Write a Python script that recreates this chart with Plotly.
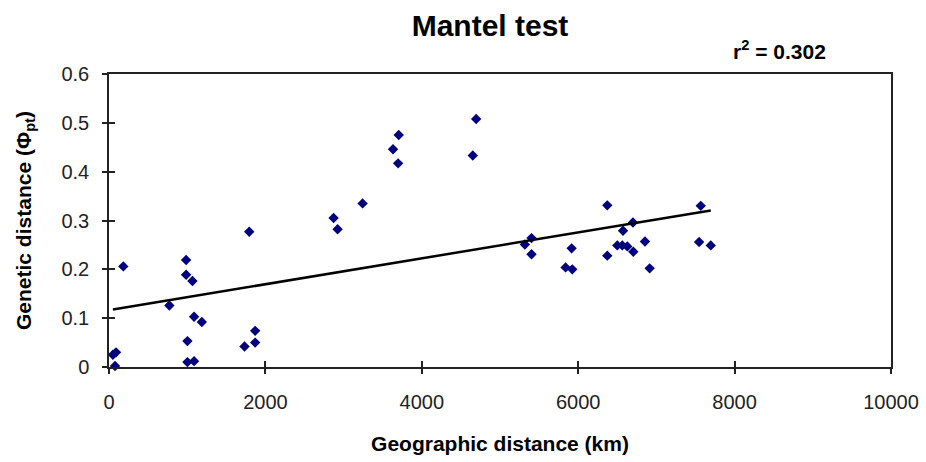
import plotly.graph_objects as go

# Geographic distance (km) between population pairs
geo_km = [50, 90, 77, 183, 772, 986, 986, 1067, 1088, 1187, 1003, 1003, 1088,
          1793, 1733, 1869, 1869, 2872, 2923, 3243, 3632, 3705, 3697,
          4695, 4652, 5318, 5403, 5403, 5916, 5839, 5924, 6372, 6372,
          6573, 6700, 6500, 6564, 6628, 6705, 6854, 6914, 7567, 7546, 7695]
# Genetic distance (Phi_pt)
gen_phi = [0.025, 0.030, 0.002, 0.206, 0.126, 0.219, 0.189, 0.176, 0.103, 0.092, 0.053, 0.010, 0.012,
           0.277, 0.042, 0.074, 0.050, 0.305, 0.282, 0.335, 0.446, 0.475, 0.417,
           0.508, 0.433, 0.251, 0.264, 0.231, 0.243, 0.204, 0.200, 0.331, 0.228,
           0.279, 0.296, 0.249, 0.249, 0.247, 0.236, 0.257, 0.202, 0.330, 0.256, 0.249]

# Linear regression trend
trend_intercept = 0.1165
trend_slope = 2.65e-5
r_squared = 0.302

x_ticks = [0, 2000, 4000, 6000, 8000, 10000]
x_ticktext = ["0", "2000", "4000", "6000", "8000", "10000"]
y_ticks = [0, 0.1, 0.2, 0.3, 0.4, 0.5, 0.6]
y_ticktext = ["0", "0.1", "0.2", "0.3", "0.4", "0.5", "0.6"]

trend_x = [min(geo_km), max(geo_km)]
trend_y = [trend_intercept + trend_slope * v for v in trend_x]

FONT = "Arial, Liberation Sans, sans-serif"
AX = "#222"

fig = go.Figure()
# invisible trace on the overlay axes (outer half of crossing ticks)
fig.add_trace(go.Scatter(x=[0], y=[0], xaxis="x2", yaxis="y2", mode="markers",
                         marker=dict(opacity=0), showlegend=False, hoverinfo="skip"))
fig.add_trace(go.Scatter(
    x=geo_km, y=gen_phi, mode="markers",
    marker=dict(symbol="diamond", size=8, color="#00007f", line=dict(width=0)),
    cliponaxis=False, showlegend=False, hoverinfo="x+y"))
fig.add_trace(go.Scatter(
    x=trend_x, y=trend_y, mode="lines",
    line=dict(color="black", width=2.5), showlegend=False, hoverinfo="skip"))

fig.update_layout(
    width=926, height=462,
    margin=dict(l=109, r=35, t=74, b=95),
    paper_bgcolor="white", plot_bgcolor="white",
    font=dict(family=FONT, color="black"),
    title=dict(text="<b>Mantel test</b>", x=490 / 926, xanchor="center",
               y=1 - 25 / 462, yanchor="middle", yref="container",
               font=dict(size=30, family=FONT, color="black")),
    xaxis=dict(range=[0, 10000], tickvals=x_ticks, ticktext=x_ticktext,
               automargin=False,
               showgrid=False, zeroline=False, showline=True, linecolor=AX,
               linewidth=1.5, mirror=True, ticks="inside", ticklen=6,
               tickcolor=AX, tickwidth=1.5, ticklabelstandoff=16,
               tickfont=dict(size=20, family=FONT, color=AX),
               title=dict(text="<b>Geographic distance (km)</b>", standoff=25,
                          font=dict(size=21, family=FONT, color="black"))),
    yaxis=dict(range=[0, 0.6], tickvals=y_ticks, ticktext=y_ticktext,
               automargin=False,
               showgrid=False, zeroline=False, showline=True, linecolor=AX,
               linewidth=1.5, mirror=True, ticks="inside", ticklen=6,
               tickcolor=AX, tickwidth=1.5, ticklabelstandoff=14,
               tickfont=dict(size=20, family=FONT, color=AX),
               title=dict(text="<b>Genetic distance (Φ<sub>pt</sub>)</b>", standoff=24,
                          font=dict(size=21, family=FONT, color="black"))),
    xaxis2=dict(range=[0, 10000], overlaying="x", anchor="y2", side="bottom",
                automargin=False,
                tickvals=x_ticks, showticklabels=False, ticks="outside", ticklen=6,
                tickcolor=AX, tickwidth=1.5, showgrid=False, zeroline=False,
                showline=False),
    yaxis2=dict(range=[0, 0.6], overlaying="y", anchor="x2", side="left",
                automargin=False,
                tickvals=y_ticks, showticklabels=False, ticks="outside", ticklen=6,
                tickcolor=AX, tickwidth=1.5, showgrid=False, zeroline=False,
                showline=False),
    annotations=[dict(text=f"<b>r<sup>2</sup> = {r_squared}</b>", xref="paper", yref="paper",
                      x=(779 - 109) / 782, y=1 + (74 - 50) / 293, xanchor="center",
                      yanchor="middle", showarrow=False,
                      font=dict(size=21, family=FONT, color="black"))],
)

fig.write_html("out.html", config={"displayModeBar": False},
               post_script="document.body.style.margin='0';document.body.style.overflow='hidden';")
